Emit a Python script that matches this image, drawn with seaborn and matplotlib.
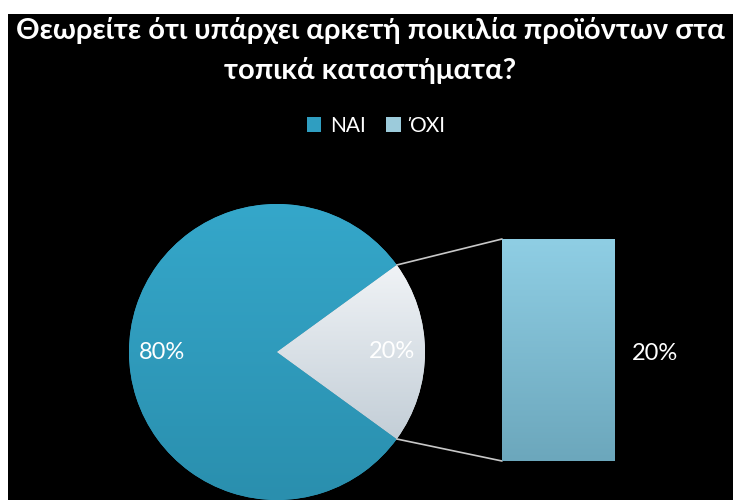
import numpy as np
import pandas as pd
import matplotlib
matplotlib.use("Agg")
import matplotlib.pyplot as plt
from matplotlib.patches import Rectangle, Patch
from matplotlib.colors import LinearSegmentedColormap
import seaborn as sns

# Survey answers
categories = ["ΝΑΙ", "ΌΧΙ"]
shares = [80, 20]
title_lines = ["Θεωρείτε ότι υπάρχει αρκετή ποικιλία προϊόντων στα",
               "τοπικά καταστήματα?"]

sns.set_theme(style="white")
plt.rcParams["font.family"] = ["Lato", "Open Sans", "DejaVu Sans"]

W, H = 733, 500
fig = plt.figure(figsize=(W / 100, H / 100), dpi=100)
fig.patch.set_facecolor("white")

# black chart area with a thin white margin on top/left
fig.patches.append(Rectangle((8 / W, 0), 1 - 8 / W, (H - 14) / H,
                             transform=fig.transFigure, facecolor="black",
                             edgecolor="none", zorder=-5))

teal = "#2f9ec1"
pale = "#dfe6eb"
bar_col = "#7fc0d6"


def shade(axis, patch, top, bottom):
    """Fill a patch with a soft vertical gradient clipped to its outline."""
    bb = patch.get_extents().transformed(axis.transData.inverted())
    cmap = LinearSegmentedColormap.from_list("g", [bottom, top])
    grad = np.linspace(0, 1, 256).reshape(-1, 1)
    im = axis.imshow(grad, cmap=cmap, origin="lower", aspect="auto",
                     extent=(bb.x0, bb.x1, bb.y0, bb.y1),
                     zorder=patch.get_zorder() + 0.1)
    im.set_clip_path(patch)


# pie axes in pixel units (y up)
ax = fig.add_axes([0, 0, 1, 1])
ax.patch.set_alpha(0)

cx, cy, r = 277, H - 352, 148
wedges, _, pct = ax.pie(shares, colors=[teal, pale], startangle=36,
                        center=(cx, cy), radius=r, autopct="%d%%",
                        pctdistance=0.78, frame=True,
                        wedgeprops=dict(linewidth=0),
                        textprops=dict(color="white", fontsize=17))
ax.set_xlim(0, W)
ax.set_ylim(0, H)
ax.set_aspect("equal")
ax.axis("off")
fig.canvas.draw()
shade(ax, wedges[0], "#35a7ca", "#2a8fae")
shade(ax, wedges[1], "#f0f3f6", "#c3ced7")
for t in pct:
    t.set_zorder(5)

# secondary bar holding the split-off share
bx0, bx1, by0, by1 = 502, 615, H - 461, H - 239
bax = fig.add_axes([bx0 / W, by0 / H, (bx1 - bx0) / W, (by1 - by0) / H])
bax.patch.set_alpha(0)
df = pd.DataFrame({"cat": [categories[1]], "val": [shares[1]]})
sns.barplot(data=df, x="cat", y="val", ax=bax, color=bar_col, width=1,
            saturation=1, linewidth=0)
bax.set_xlim(-0.5, 0.5)
bax.set_ylim(0, shares[1])
bax.axis("off")
fig.canvas.draw()
shade(bax, bax.patches[0], "#8fcee4", "#6ca7bc")
bax.set_xlim(-0.5, 0.5)
bax.set_ylim(0, shares[1])
fig.text((bx1 + 17) / W, (H - 353) / H, f"{shares[1]}%", color="white",
         fontsize=17, ha="left", va="center")

# connector lines from the split slice to the bar
ang = np.deg2rad(36)
for s, by in ((1, by1), (-1, by0)):
    ax.plot([cx + r * np.cos(ang), bx0], [cy + s * r * np.sin(ang), by],
            color="#c8c8c8", lw=1.2)
ax.set_xlim(0, W)
ax.set_ylim(0, H)

# title
for line, ypix in zip(title_lines, (31, 70)):
    fig.text(370 / W, (H - ypix) / H, line, color="white", fontsize=21,
             fontweight="bold", ha="center", va="center")

# legend
handles = [Patch(facecolor=teal, edgecolor="none"),
           Patch(facecolor="#9ccbdb", edgecolor="none")]
fig.legend(handles, categories, loc="center", bbox_to_anchor=(376 / W, (H - 126) / H),
           ncol=2, frameon=False, labelcolor="white", fontsize=15,
           handlelength=0.7, handleheight=0.7, handletextpad=0.4, columnspacing=1.0)

fig.savefig("out.png", dpi=100, facecolor=fig.get_facecolor())
